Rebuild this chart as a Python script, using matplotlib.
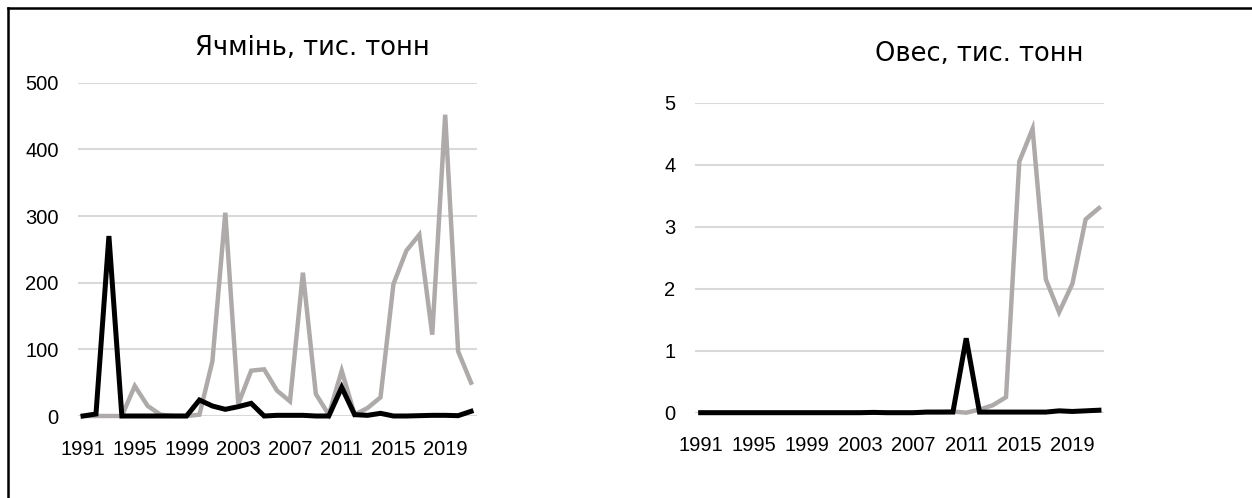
import matplotlib
matplotlib.use("Agg")
import matplotlib.pyplot as plt
from matplotlib.lines import Line2D

years = list(range(1991, 2022))

barley_grey = [0, 0, 0, 0, 45, 15, 2, 0, 0, 2, 82, 305, 18, 68, 70, 38, 22, 215,
               33, 2, 68, 2, 12, 28, 198, 248, 272, 122, 452, 97, 50]
barley_black = [0, 3, 270, 0, 0, 0, 0, 0, 0, 24, 15, 10, 14, 19, 0, 1, 1, 1,
                0, 0, 43, 2, 1, 4, 0, 0, 0.5, 1, 1, 0.5, 7]

oats_grey = [0, 0, 0, 0, 0, 0, 0, 0, 0, 0, 0, 0, 0, 0, 0, 0, 0, 0.01,
             0.01, 0.02, 0.0, 0.05, 0.12, 0.25, 4.05, 4.58, 2.15, 1.62, 2.08, 3.12, 3.3]
oats_black = [0, 0, 0, 0, 0, 0, 0, 0, 0, 0, 0, 0, 0, 0.005, 0, 0, 0, 0.01,
              0.01, 0.01, 1.2, 0.01, 0.01, 0.01, 0.01, 0.01, 0.01, 0.03, 0.02, 0.03, 0.04]

xticks = list(range(1991, 2022, 4))
titles = ["Ячмінь, тис. тонн", "Овес, тис. тонн"]

W, H = 1252, 498
fig = plt.figure(figsize=(W / 100, H / 100), dpi=100)
fig.patch.set_facecolor("white")

FONT = ["Liberation Sans", "DejaVu Sans"]
TFONT = ["DejaVu Sans"]
GREY = "#AEAAAA"
GRID = "#D9D9D9"


def px_axes(l, r, top, bot):
    return fig.add_axes([l / W, 1 - bot / H, (r - l) / W, (bot - top) / H])


def style(ax, ymax, yticks, xlim):
    ax.set_xlim(*xlim)
    ax.set_ylim(0, ymax)
    ax.set_yticks(yticks)
    ax.set_xticks(xticks)
    ax.grid(axis="y", color=GRID, linewidth=1.5)
    ax.set_axisbelow(True)
    for s in ax.spines.values():
        s.set_visible(False)
    ax.tick_params(axis="both", length=0, labelsize=14.5, colors="black")
    ax.tick_params(axis="y", pad=14)
    ax.tick_params(axis="x", pad=17)
    for lab in ax.get_xticklabels() + ax.get_yticklabels():
        lab.set_family(FONT)


ax1 = px_axes(78, 477, 82.7, 416)
ax1.plot(years, barley_grey, color=GREY, lw=3.2, clip_on=False, solid_joinstyle="miter")
ax1.plot(years, barley_black, color="black", lw=3.6, clip_on=False, solid_joinstyle="miter")
style(ax1, 500, [0, 100, 200, 300, 400, 500], (1990.61, 2021.46))

ax2 = px_axes(694.7, 1104, 102.7, 412.7)
ax2.plot(years, oats_grey, color=GREY, lw=3.2, clip_on=False, solid_joinstyle="miter")
ax2.plot(years, oats_black, color="black", lw=3.6, clip_on=False, solid_joinstyle="miter")
style(ax2, 5, [0, 1, 2, 3, 4, 5], (1990.55, 2021.38))

fig.text(312 / W, 1 - 48 / H, titles[0], ha="center", va="center", fontsize=18.5, family=TFONT)
fig.text(979 / W, 1 - 54 / H, titles[1], ha="center", va="center", fontsize=18.5, family=TFONT)

x0, y0 = 8 / W, 1 - 8 / H
fig.add_artist(Line2D([x0, 1.02], [y0, y0], transform=fig.transFigure, color="black", lw=1.8))
fig.add_artist(Line2D([x0, x0], [-0.02, y0], transform=fig.transFigure, color="black", lw=1.8))

fig.savefig("out.png", dpi=100, facecolor="white")
